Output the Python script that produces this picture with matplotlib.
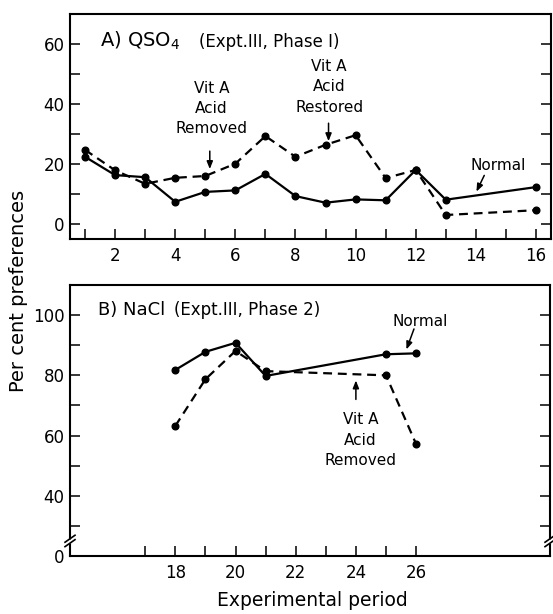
import matplotlib
matplotlib.use('Agg')
import matplotlib.pyplot as plt

# ---------------- data ----------------
# Panel A: QSO4 (Expt. III, Phase 1)
a_periods = [1, 2, 3, 4, 5, 6, 7, 8, 9, 10, 11, 12, 13, 16]
a_normal = [22.4, 16.3, 15.6, 7.4, 10.7, 11.2, 16.7, 9.3, 7.1, 8.2, 7.9, 18.0, 8.1, 12.3]
a_removed = [24.7, 17.9, 13.4, 15.4, 16.0, 20.1, 29.3, 22.4, 26.4, 29.6, 15.3, 18.0, 3.0, 4.6]

# Panel B: NaCl (Expt. III, Phase 2)
b_periods = [18, 19, 20, 21, 25, 26]
b_normal = [81.8, 87.8, 90.8, 79.8, 87.0, 87.3]
b_removed = [63.2, 78.7, 88.1, 81.4, 80.0, 57.2]

a_xticks = list(range(1, 17))
a_xticklabels = [str(v) if v % 2 == 0 else '' for v in a_xticks]
a_yticks = [0, 10, 20, 30, 40, 50, 60]
a_yticklabels = ['0', '', '20', '', '40', '', '60']

b_xticks = list(range(17, 27))
b_xticklabels = [str(v) if v % 2 == 0 else '' for v in b_xticks]
b_yticks = [20, 30, 40, 50, 60, 70, 80, 90, 100]
b_yticklabels = ['0', '', '40', '', '60', '', '80', '', '100']

# ---------------- figure ----------------
plt.rcParams['font.family'] = ['DejaVu Sans']
W, H = 553, 614
fig = plt.figure(figsize=(W / 100, H / 100), dpi=100)

def px_axes(left, top, right, bottom):
    return fig.add_axes([left / W, 1 - bottom / H, (right - left) / W, (bottom - top) / H])

axA = px_axes(70, 14, 551, 239)
axB = px_axes(70, 285, 550, 556)

line_kw = dict(color='black', lw=1.6, marker='o', markersize=4.8, clip_on=False)
dash = (0, (4, 2.6))

for ax in (axA, axB):
    for s in ax.spines.values():
        s.set_linewidth(1.5)
    ax.tick_params(axis='both', which='both', direction='in', length=7.5, width=1.1,
                   top=False, right=True, labelsize=12, pad=4)
    ax.tick_params(axis='x', pad=6)

# Panel A
axA.plot(a_periods, a_normal, ls='-', **line_kw)
axA.plot(a_periods, a_removed, ls=dash, **line_kw)
axA.set_xlim(0.5, 16.5)
axA.set_ylim(-5, 70)
axA.set_xticks(a_xticks)
axA.set_xticklabels(a_xticklabels)
axA.set_yticks(a_yticks)
axA.set_yticklabels(a_yticklabels)

axA.text(1.5, 59, 'A) QSO$_4$', fontsize=14, ha='left', va='baseline')
axA.text(4.78, 59, '(Expt.III, Phase I)', fontsize=12, ha='left', va='baseline')

txt_kw = dict(fontsize=11, ha='center', va='center', linespacing=1.45)
arrow_kw = dict(arrowstyle='-|>,head_length=0.45,head_width=0.18', color='black', lw=1.1,
                shrinkA=0, shrinkB=0)
axA.text(5.2, 38.5, 'Vit A\nAcid\nRemoved', **txt_kw)
axA.annotate('', xy=(5.15, 18.3), xytext=(5.15, 24.3), arrowprops=arrow_kw)
axA.text(9.12, 45.7, 'Vit A\nAcid\nRestored', **txt_kw)
axA.annotate('', xy=(9.1, 27.6), xytext=(9.1, 33.6), arrowprops=arrow_kw)
axA.text(14.73, 19.6, 'Normal', **txt_kw)
axA.annotate('', xy=(14.02, 10.8), xytext=(14.28, 16.2), arrowprops=arrow_kw)

# Panel B
axB.plot(b_periods, b_normal, ls='-', **line_kw)
axB.plot(b_periods, b_removed, ls=dash, **line_kw)
axB.set_xlim(14.5, 30.45)
axB.set_ylim(20, 110)
axB.set_xticks(b_xticks)
axB.set_xticklabels(b_xticklabels)
axB.set_yticks(b_yticks)
axB.set_yticklabels(b_yticklabels)

axB.text(15.43, 100, 'B) NaCl', fontsize=13, ha='left', va='baseline')
axB.text(17.95, 100, '(Expt.III, Phase 2)', fontsize=12, ha='left', va='baseline')
axB.text(26.15, 97.8, 'Normal', **txt_kw)
axB.annotate('', xy=(25.68, 88.6), xytext=(25.93, 95.4), arrowprops=arrow_kw)
axB.text(24.15, 58.4, 'Vit A\nAcid\nRemoved', **txt_kw)
axB.annotate('', xy=(24.0, 78.3), xytext=(24.0, 72.0), arrowprops=arrow_kw)

# axis break marks on the lower panel
yb = (25 - 20) / 90.0
hx = 5.0 / 480
hy = 3.5 / 271
gap = 2.2 / 271
for xb in (0.0, 1.0):
    axB.plot([xb, xb], [yb - gap, yb + gap], transform=axB.transAxes, color='white',
             lw=3.5, clip_on=False, zorder=5, solid_capstyle='butt')
    for off in (-gap, gap):
        axB.plot([xb - hx, xb + hx], [yb + off - hy, yb + off + hy], transform=axB.transAxes,
                 color='black', lw=1.2, clip_on=False, zorder=6)

fig.text(19 / W, 1 - 291 / H, 'Per cent preferences', rotation=90, fontsize=14,
         ha='center', va='center')
fig.text(312 / W, 1 - 601 / H, 'Experimental period', fontsize=13.5, ha='center', va='center')

fig.savefig('out.png', dpi=100)
